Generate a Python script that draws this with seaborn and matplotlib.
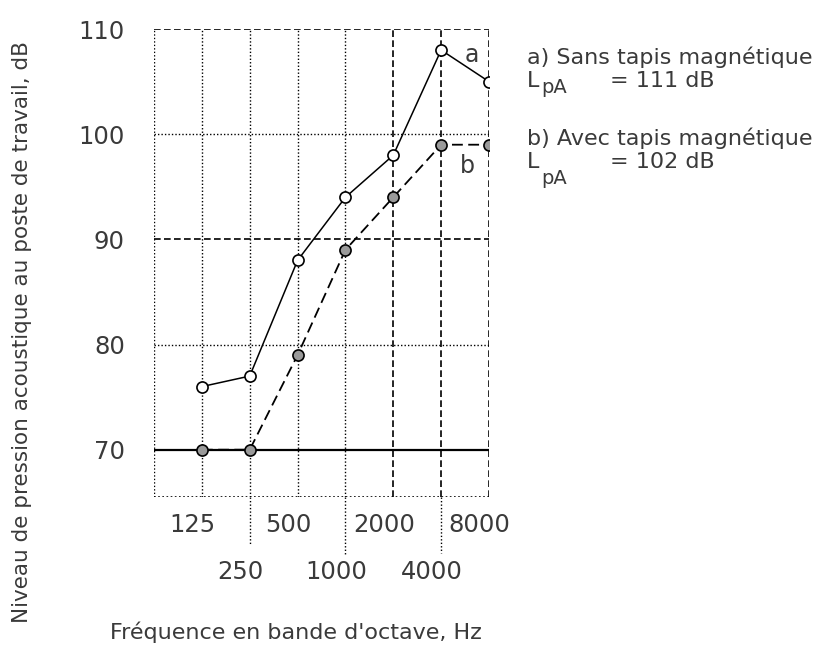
import matplotlib
matplotlib.use("Agg")
import matplotlib.pyplot as plt
import matplotlib.transforms as mtransforms
import pandas as pd
import seaborn as sns

freqs = ["125", "250", "500", "1000", "2000", "4000", "8000"]
sans_tapis = [76, 77, 88, 94, 98, 108, 105]
avec_tapis = [70, 70, 79, 89, 94, 99, 99]
y_ticks = [70, 80, 90, 100, 110]

pos = list(range(1, len(freqs) + 1))
df_a = pd.DataFrame({"pos": pos, "niveau": sans_tapis})
df_b = pd.DataFrame({"pos": pos, "niveau": avec_tapis})

sns.set_style("white")
plt.rcParams["font.family"] = ["DejaVu Sans"]
plt.rcParams["mathtext.default"] = "regular"
txt = "#3a3a3a"

fig = plt.figure(figsize=(8.25, 6.55), dpi=100)
ax = fig.add_axes([0.1867, 0.2412, 0.406, 0.7145])

# grid / frame
for p in [0, 1, 2, 3, 4]:
    ax.axvline(p, color="black", lw=1, ls=(0, (1, 1.5)), zorder=1)
for p in [5, 6, 7]:
    ax.axvline(p, color="black", lw=1.2, ls=(0, (4, 2)), zorder=1)
ax.axhline(110, color="black", lw=1.2, ls=(0, (4, 2)), zorder=1)
ax.axhline(90, color="black", lw=1.2, ls=(0, (4, 2)), zorder=1)
for v in [80, 100]:
    ax.axhline(v, color="black", lw=1, ls=(0, (1, 1.5)), zorder=1)
ax.axhline(65.5, color="black", lw=1.2, ls=(0, (1, 1.5)), zorder=1)
ax.axhline(70, color="black", lw=1.6, zorder=2)

# separators between the two rows of tick labels
trans = mtransforms.blended_transform_factory(ax.transData, ax.transAxes)
for p, low in [(2, -0.10), (4, -0.125), (6, -0.12)]:
    ax.plot([p, p], [0, low], transform=trans, color="black", lw=1,
            ls=(0, (1, 1.5)), clip_on=False)

sns.lineplot(data=df_a, x="pos", y="niveau", ax=ax, color="black", lw=1.1,
             marker="o", markersize=8, markerfacecolor="white",
             markeredgecolor="black", markeredgewidth=1.2, zorder=4)
sns.lineplot(data=df_b, x="pos", y="niveau", ax=ax, color="black", lw=1.3,
             linestyle=(0, (6, 3)), marker="o", markersize=8,
             markerfacecolor="#9a9a9a", markeredgecolor="black",
             markeredgewidth=1.2, zorder=4)

ax.text(6.65, 107.5, "a", fontsize=17, color=txt, ha="center", va="center")
ax.text(6.55, 97.0, "b", fontsize=17, color=txt, ha="center", va="center")

ax.set_xlim(0, 7)
ax.set_ylim(65.5, 110)
for s in ax.spines.values():
    s.set_visible(False)
ax.set_xticks([])
ax.set_yticks(y_ticks)
ax.set_yticklabels([str(v) for v in y_ticks], fontsize=17.5, color=txt)
ax.tick_params(axis="y", length=0, pad=21)
ax.set_xlabel("")
ax.set_ylabel("")

# two-row frequency labels
for i, (p, lab) in enumerate(zip(pos, freqs)):
    y = -0.06 if i % 2 == 0 else -0.16
    ax.text(p - 0.2, y, lab, transform=trans, fontsize=17.5, color=txt,
            ha="center", va="center")

fig.text(0.359, 0.034, "Fréquence en bande d'octave, Hz", fontsize=16,
         color=txt, ha="center", va="center")
fig.text(0.027, 0.493, "Niveau de pression acoustique au poste de travail, dB",
         fontsize=15.5, color=txt, rotation=90, ha="center", va="center")

# legend block
fig.text(0.639, 0.913, "a) Sans tapis magnétique", fontsize=16, color=txt,
         va="center")
fig.text(0.639, 0.877, "L", fontsize=16, color=txt, va="center")
fig.text(0.656, 0.866, "pA", fontsize=14, color=txt, va="center")
fig.text(0.739, 0.877, "= 111 dB", fontsize=16, color=txt, va="center")
fig.text(0.639, 0.789, "b) Avec tapis magnétique", fontsize=16, color=txt,
         va="center")
fig.text(0.639, 0.753, "L", fontsize=16, color=txt, va="center")
fig.text(0.656, 0.728, "pA", fontsize=14, color=txt, va="center")
fig.text(0.739, 0.753, "= 102 dB", fontsize=16, color=txt, va="center")

fig.savefig("out.png", dpi=100)
